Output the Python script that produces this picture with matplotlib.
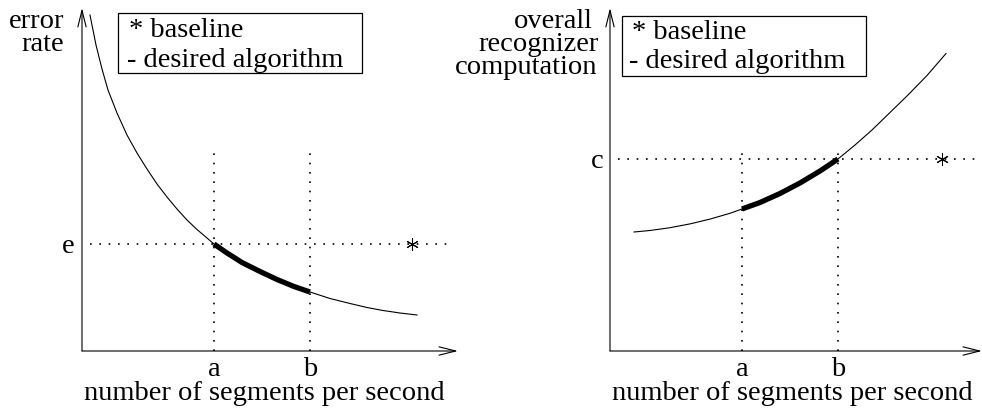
import matplotlib
matplotlib.use("Agg")
import matplotlib.pyplot as plt
from matplotlib.patches import Rectangle

plt.rcParams['font.family'] = ['Liberation Serif', 'DejaVu Serif']

# Operating range of the desired algorithm (segments per second)
rate_a, rate_b = 132, 228
rate_ticks = ['a', 'b']

# Error rate versus segment rate
err_x = [8, 14, 20, 26, 35, 45, 55, 65, 75, 85, 95, 105, 115, 132, 145, 160,
         178, 195, 212, 228, 248, 268, 285, 301, 318, 335]
err_y = [336, 306, 282, 261, 238, 216, 198, 182, 167, 154, 142, 131, 121.5, 107,
         98, 88.5, 79.5, 71.5, 64.5, 59, 52.5, 47.5, 43.5, 40.5, 38, 36]
err_baseline = (330, 107)   # baseline system: rate, error e

# Overall recognizer computation versus segment rate
comp_x = [24, 40, 60, 80, 100, 120, 132, 150, 170, 190, 210, 228, 245, 262,
          280, 298, 317, 336]
comp_y = [119, 120.5, 123.3, 127.1, 131.9, 137.7, 142, 148.5, 157.5, 168, 180,
          192, 206, 221, 238.5, 256, 275.5, 297.5]
comp_baseline = (332, 192)  # baseline system: rate, computation c

legend_lines = ['* baseline', '- desired algorithm']
xlabel = 'number of segments per second'

FS = 20.5
W, H = 982, 411
fig = plt.figure(figsize=(W / 100, H / 100), dpi=100)
fig.patch.set_facecolor('white')


def make_axes(x0, x1, y_bottom, y_top):
    ax = fig.add_axes([x0 / W, (H - y_bottom) / H, (x1 - x0) / W, (y_bottom - y_top) / H])
    ax.set_xlim(0, x1 - x0)
    ax.set_ylim(0, y_bottom - y_top)
    ax.set_axis_off()
    return ax


def draw_panel(ax, xs, ys, base, level_label, level_x, ylabel_lines, box, legend_xy):
    xmax = ax.get_xlim()[1]
    ymax = ax.get_ylim()[1]
    arrow = dict(arrowstyle='->,head_length=1.2,head_width=0.3', lw=0.8,
                 color='black', shrinkA=0, shrinkB=0)
    ax.annotate('', xy=(xmax, 0), xytext=(0, 0), arrowprops=arrow, annotation_clip=False)
    ax.annotate('', xy=(0, ymax), xytext=(0, 0), arrowprops=arrow, annotation_clip=False)

    dots = dict(color='black', lw=1.2, linestyle=(0, (1, 4.6)), clip_on=False)
    for r in (rate_a, rate_b):
        ax.plot([r, r], [0, 205], **dots)
    ax.plot([8, 372], [base[1], base[1]], **dots)

    ax.plot(xs, ys, color='black', lw=0.8, clip_on=False, solid_joinstyle='round')
    seg = [(x, y) for x, y in zip(xs, ys) if rate_a <= x <= rate_b]
    ax.plot([p[0] for p in seg], [p[1] for p in seg], color='black', lw=3.8,
            solid_capstyle='butt', solid_joinstyle='round', clip_on=False)

    ax.plot([base[0]], [base[1]], linestyle='none', marker=(6, 2, 0), ms=9,
            mew=0.75, color='black', clip_on=False)

    ax.text(level_x, base[1] - 9, level_label, ha='center', va='baseline', fontsize=FS)
    for r, t in zip((rate_a, rate_b), rate_ticks):
        ax.text(r, -25, t, ha='center', va='baseline', fontsize=FS)
    ax.text(182, -49, xlabel, ha='center', va='baseline', fontsize=FS)

    for t, x, y in ylabel_lines:
        ax.text(x, y, t, ha='right', va='baseline', fontsize=FS)

    bx0, by0, bx1, by1 = box
    ax.add_patch(Rectangle((bx0, by0), bx1 - bx0, by1 - by0, fill=False,
                           edgecolor='black', lw=0.9, clip_on=False))
    for t, (x, y) in zip(legend_lines, legend_xy):
        ax.text(x, y, t, ha='left', va='baseline', fontsize=FS)


# Left panel: origin at pixel (82, 351)
axL = make_axes(82, 458, 351, 8)
draw_panel(axL, err_x, err_y, err_baseline, 'e', -14,
           [('error', -18, 323), ('rate', -18, 300)],
           (36, 278, 280, 338), [(47, 314), (45, 284)])

# Right panel: origin at pixel (610, 351)
axR = make_axes(610, 982, 351, 8)
draw_panel(axR, comp_x, comp_y, comp_baseline, 'c', -13,
           [('overall', -17, 323), ('recognizer', -11, 300), ('computation', -13, 277)],
           (12, 275, 256, 335), [(22, 312), (19, 283)])

fig.savefig('out.png', dpi=100, facecolor='white')
